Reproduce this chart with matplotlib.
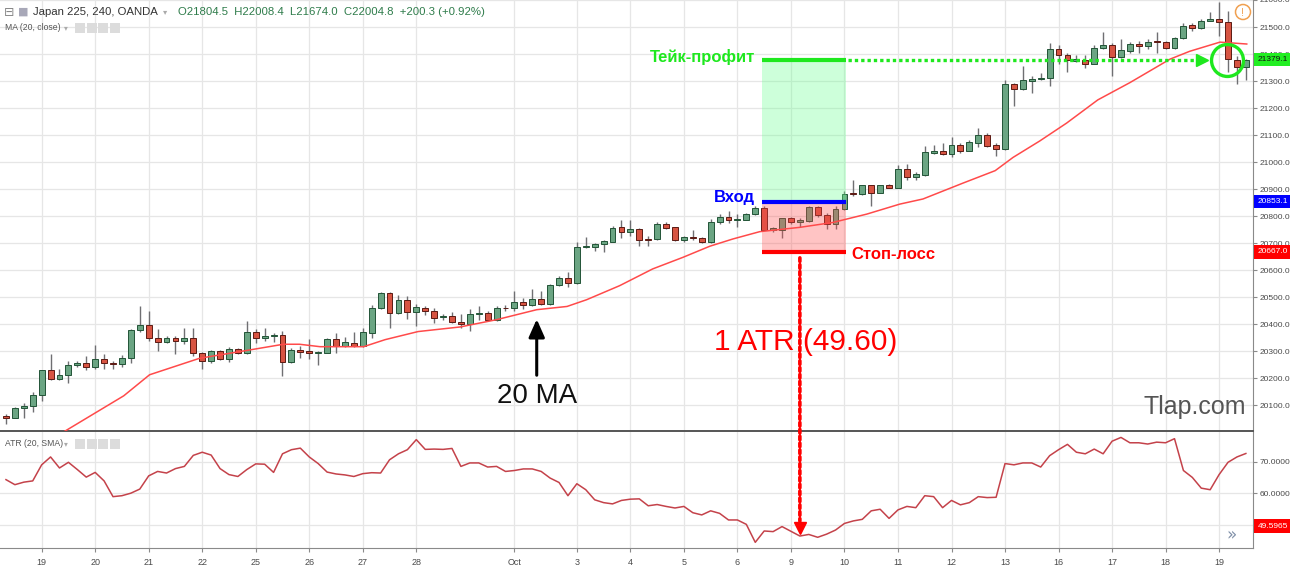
import numpy as np
import matplotlib.pyplot as plt
from matplotlib.patches import Rectangle, ConnectionPatch, Ellipse

plt.rcParams['font.family'] = ['Liberation Sans', 'DejaVu Sans']

# 4h candles, Japan 225 (OANDA)
opens = [20058, 20052, 20089, 20095, 20137, 20228, 20196, 20210, 20247, 20257,
         20242, 20269, 20257, 20251, 20273, 20377, 20398, 20347, 20334, 20347,
         20337, 20350, 20291, 20263, 20300, 20269, 20306, 20291, 20371, 20350,
         20355, 20359, 20261, 20304, 20300, 20291, 20294, 20343, 20318, 20330,
         20318, 20367, 20461, 20515, 20441, 20488, 20445, 20461, 20448, 20426,
         20431, 20407, 20399, 20438, 20441, 20414, 20460, 20458, 20480, 20469,
         20492, 20474, 20545, 20572, 20551, 20684, 20687, 20697, 20705, 20758,
         20742, 20752, 20716, 20715, 20772, 20758, 20712, 20724, 20720, 20702,
         20776, 20795, 20787, 20787, 20807, 20829, 20749, 20749, 20791, 20776,
         20782, 20835, 20803, 20770, 20825, 20884, 20881, 20914, 20887, 20914,
         20905, 20974, 20946, 20953, 21035, 21040, 21030, 21064, 21042, 21072,
         21099, 21062, 21048, 21288, 21269, 21300, 21306, 21310, 21417, 21398,
         21374, 21376, 21364, 21423, 21435, 21389, 21410, 21438, 21429, 21448,
         21444, 21423, 21460, 21508, 21498, 21524, 21529, 21520, 21379, 21351]
highs = [20068, 20093, 20107, 20149, 20230, 20288, 20232, 20263, 20263, 20282,
         20322, 20289, 20264, 20285, 20383, 20466, 20448, 20383, 20355, 20355,
         20387, 20387, 20297, 20304, 20304, 20313, 20310, 20412, 20383, 20387,
         20365, 20375, 20310, 20318, 20343, 20300, 20347, 20367, 20353, 20371,
         20387, 20469, 20518, 20518, 20506, 20502, 20475, 20466, 20461, 20438,
         20443, 20438, 20455, 20465, 20447, 20465, 20471, 20524, 20496, 20529,
         20521, 20548, 20578, 20591, 20705, 20721, 20699, 20711, 20763, 20785,
         20785, 20754, 20727, 20776, 20776, 20761, 20727, 20749, 20722, 20788,
         20807, 20819, 20807, 20811, 20838, 20838, 20760, 20793, 20795, 20791,
         20838, 20838, 20811, 20838, 20893, 20934, 20916, 20916, 20916, 20918,
         20989, 20992, 20962, 21058, 21062, 21072, 21093, 21072, 21082, 21125,
         21107, 21072, 21304, 21294, 21355, 21318, 21331, 21439, 21432, 21405,
         21398, 21398, 21432, 21483, 21439, 21454, 21444, 21448, 21456, 21483,
         21448, 21464, 21514, 21516, 21530, 21554, 21591, 21560, 21391, 21381]
lows = [20030, 20051, 20052, 20074, 20113, 20193, 20193, 20183, 20239, 20228,
        20235, 20235, 20233, 20240, 20255, 20371, 20338, 20301, 20328, 20288,
        20326, 20283, 20233, 20257, 20267, 20261, 20288, 20289, 20328, 20338,
        20334, 20208, 20257, 20273, 20269, 20248, 20291, 20294, 20313, 20313,
        20313, 20347, 20457, 20387, 20436, 20420, 20392, 20433, 20402, 20414,
        20404, 20385, 20373, 20414, 20410, 20410, 20447, 20447, 20457, 20465,
        20471, 20471, 20539, 20537, 20549, 20681, 20672, 20668, 20702, 20718,
        20727, 20690, 20690, 20712, 20752, 20708, 20702, 20712, 20700, 20700,
        20772, 20774, 20761, 20785, 20803, 20748, 20742, 20720, 20772, 20761,
        20778, 20795, 20752, 20752, 20823, 20875, 20877, 20838, 20885, 20902,
        20902, 20934, 20934, 20949, 21029, 21025, 21017, 21033, 21039, 21054,
        21054, 21021, 21044, 21208, 21267, 21254, 21304, 21282, 21362, 21333,
        21370, 21349, 21362, 21419, 21319, 21385, 21404, 21404, 21419, 21404,
        21419, 21419, 21456, 21485, 21494, 21521, 21466, 21335, 21289, 21304]
closes = [20051, 20090, 20098, 20138, 20228, 20196, 20212, 20247, 20257, 20242,
          20269, 20255, 20251, 20273, 20377, 20398, 20347, 20334, 20347, 20337,
          20350, 20291, 20264, 20300, 20269, 20306, 20291, 20371, 20350, 20355,
          20361, 20261, 20304, 20298, 20291, 20298, 20343, 20318, 20334, 20318,
          20370, 20461, 20515, 20441, 20488, 20445, 20463, 20448, 20424, 20431,
          20406, 20399, 20438, 20441, 20414, 20459, 20458, 20480, 20469, 20492,
          20474, 20545, 20572, 20551, 20684, 20689, 20697, 20708, 20754, 20742,
          20752, 20712, 20712, 20772, 20754, 20712, 20724, 20717, 20702, 20776,
          20795, 20787, 20790, 20807, 20829, 20749, 20754, 20791, 20776, 20785,
          20835, 20803, 20770, 20825, 20883, 20881, 20914, 20887, 20914, 20905,
          20974, 20946, 20955, 21038, 21040, 21030, 21064, 21042, 21075, 21099,
          21060, 21048, 21288, 21269, 21304, 21309, 21312, 21417, 21398, 21378,
          21380, 21364, 21423, 21435, 21389, 21414, 21438, 21429, 21446, 21444,
          21423, 21460, 21504, 21498, 21524, 21529, 21520, 21381, 21351, 21376]

# ATR (20, SMA), one value per candle
atr = [64.4, 62.8, 63.6, 64.0, 69.1, 71.6, 68.1, 69.9, 67.6, 65.2,
       66.7, 64.0, 59.0, 59.3, 60.1, 61.4, 65.6, 67.0, 66.5, 67.9,
       68.6, 72.1, 73.1, 72.2, 67.9, 66.0, 65.4, 67.6, 69.4, 69.3,
       66.7, 72.6, 73.9, 74.4, 71.6, 69.5, 66.8, 66.2, 65.9, 65.4,
       66.3, 66.6, 66.5, 70.7, 72.6, 73.9, 77.1, 74.0, 74.1, 74.0,
       74.3, 68.6, 69.7, 69.7, 68.4, 68.6, 67.0, 67.3, 67.8, 67.8,
       67.0, 64.9, 63.5, 59.3, 63.1, 61.2, 58.0, 57.1, 56.7, 57.8,
       58.2, 58.3, 56.1, 56.5, 55.9, 55.4, 55.9, 53.9, 53.2, 54.5,
       53.7, 51.6, 51.6, 50.2, 44.5, 48.1, 47.9, 49.5, 48.0, 46.5,
       47.0, 46.1, 47.1, 48.4, 50.5, 51.3, 51.8, 54.5, 55.0, 52.1,
       54.8, 55.9, 55.5, 59.3, 59.0, 55.5, 57.8, 56.4, 57.1, 59.0,
       58.7, 58.8, 69.5, 69.1, 69.7, 69.7, 68.4, 72.0, 73.9, 75.6,
       73.1, 72.6, 74.1, 72.6, 76.6, 77.8, 76.1, 76.1, 75.7, 76.3,
       76.1, 77.4, 67.3, 65.1, 61.7, 61.2, 66.0, 69.9, 71.6, 72.7]

# MA (20, close) as traced on the chart
ma_x = [6.6, 13.2, 16.1, 21.7, 27.7, 31.1, 32.9, 35.2, 40.1, 42.5, 46.2, 50.9,
        55.0, 59.5, 62.9, 65.1, 68.8, 72.5, 75.9, 78.9, 81.5, 84.5, 89.0, 92.7,
        96.5, 100.2, 102.8, 107.3, 110.9, 112.9, 115.9, 118.9, 122.4, 126.0,
        130.5, 132.7, 136.1, 139.1]
ma_val = [20003, 20134, 20212, 20273, 20306, 20325, 20325, 20316, 20316, 20342,
          20372, 20389, 20416, 20453, 20465, 20490, 20542, 20604, 20647, 20688,
          20715, 20742, 20758, 20776, 20807, 20844, 20863, 20922, 20968, 21017,
          21078, 21144, 21230, 21294, 21381, 21410, 21444, 21437]

day_pos = [4, 10, 16, 22, 28, 34, 40, 46, 57, 64, 70, 76, 82, 88, 94, 100,
           106, 112, 118, 124, 130, 136]
day_labels = ['19', '20', '21', '22', '25', '26', '27', '28', 'Oct', '3', '4',
              '5', '6', '9', '10', '11', '12', '13', '16', '17', '18', '19']

take_profit = 21379.1
entry = 20853.1
stop_loss = 20667.0
atr_now = 49.5965
trade_start, trade_end = 84.7, 94.2

GREEN = '#1ee81e'
W, H = 1290, 568


def px_box(x0, y0, x1, y1):
    return [x0 / W, 1 - y1 / H, (x1 - x0) / W, (y1 - y0) / H]


fig = plt.figure(figsize=(12.9, 5.68), dpi=100)
ax = fig.add_axes(px_box(0, 0, 1253, 431))
ax2 = fig.add_axes(px_box(0, 432, 1253, 548), sharex=ax)

# candles
x = np.arange(len(closes))
o = np.array(opens)
c = np.array(closes)
up = c >= o
ax.vlines(x, lows, highs, color='#6f6f72', lw=1, zorder=2)
ax.bar(x, np.maximum(np.abs(c - o), 1.5), bottom=np.minimum(o, c), width=0.66,
       color=np.where(up, '#6ba583', '#d75442'),
       edgecolor=np.where(up, '#225437', '#5b1a13'), linewidth=0.7, zorder=3)
ax.plot(ma_x, ma_val, color='#ff4a4a', lw=1.1, zorder=4)

# trade zones
ax.add_patch(Rectangle((trade_start, entry), trade_end - trade_start, take_profit - entry,
                       fc=(0.4, 1, 0.55), alpha=0.32, ec='none', zorder=5))
ax.add_patch(Rectangle((trade_start, stop_loss), trade_end - trade_start, entry - stop_loss,
                       fc=(1, 0.3, 0.3), alpha=0.33, ec='none', zorder=5))
ax.hlines(take_profit, trade_start, trade_end, color=GREEN, lw=3, zorder=6)
ax.hlines(entry, trade_start, trade_end, color='#0000ff', lw=3, zorder=6)
ax.hlines(stop_loss, trade_start, trade_end, color='#ff0000', lw=3, zorder=6)

ax.plot([trade_end + 0.2, 133.6], [take_profit] * 2, color=GREEN, lw=2.4,
        linestyle=(0, (1, 0.9)), zorder=6)
ax.plot(134.1, take_profit, marker='>', ms=9, color=GREEN, zorder=6)
ax.plot(136.9, take_profit, 'o', ms=23, mfc='none', mec=GREEN, mew=2.4, zorder=7)

ax.text(84.0, 21389, 'Тейк-профит', color=GREEN, fontsize=12, fontweight='bold',
        ha='right', va='center', zorder=8)
ax.text(84.0, 20870, 'Вход', color='#0000ff', fontsize=12, fontweight='bold',
        ha='right', va='center', zorder=8)
ax.text(94.8, 20659, 'Стоп-лосс', color='#ff0000', fontsize=12, fontweight='bold',
        ha='left', va='center', zorder=8)
ax.text(89.7, 20333, '1 ATR (49.60)', color='#ff0000', fontsize=21.5,
        ha='center', va='center', zorder=8)

ax.annotate('', xy=(59.5, 20428), xytext=(59.5, 20200),
            arrowprops=dict(arrowstyle='-|>,head_width=0.4,head_length=0.9',
                            lw=2.2, color='black', mutation_scale=12), zorder=8)
ax.text(59.5, 20133, '20 MA', fontsize=20, ha='center', va='center', color='#111111')
ax.text(133.3, 20093, 'Tlap.com', fontsize=18, ha='center', va='center', color='#555555')

# ATR panel
ax2.plot(x, atr, color='#c4424a', lw=1.1)
con = ConnectionPatch(xyA=(89, 20645), coordsA=ax.transData, xyB=(89, 51.2),
                      coordsB=ax2.transData, color='#ff0000', lw=2.6,
                      linestyle=(0, (1, 0.9)), zorder=9)
fig.add_artist(con)
ax2.plot(89, 49.0, marker='v', ms=9, color='#ff0000', clip_on=False, zorder=9)

# axes styling
ax.set_xlim(-0.67, 139.8)
ax.set_ylim(21600 - 431 * 3.7037, 21600)
ax2.set_ylim(42.7, 79.52)

for a in (ax, ax2):
    a.yaxis.tick_right()
    a.grid(True, color='#e6e6e6', lw=0.9, zorder=0)
    a.set_axisbelow(True)
    a.spines['top'].set_visible(False)
    a.spines['left'].set_visible(False)
    a.spines['right'].set_color('#8a8a8a')
    a.tick_params(axis='y', length=3, width=0.8, color='#8a8a8a', labelsize=6,
                  labelcolor='#4a4a4a', pad=1.5)

ax.spines['bottom'].set_color('#555555')
ax.spines['bottom'].set_linewidth(1.4)
ax2.spines['bottom'].set_color('#8a8a8a')

ax.set_yticks(np.arange(20100, 21601, 100))
ax.set_yticklabels(['%.1f' % v for v in np.arange(20100, 21601, 100)])
ax2.set_yticks([50, 60, 70])
ax2.set_yticklabels(['', '60.0000', '70.0000'])

ax2.set_xticks(day_pos)
ax2.set_xticklabels(day_labels)
ax.tick_params(axis='x', length=0, labelbottom=False)
ax2.tick_params(axis='x', length=3, color='#8a8a8a', labelsize=6.5,
                labelcolor='#4a4a4a', pad=4)


def price_tag(a, y, text, fc, tc):
    a.text(1.0035, y, text, transform=a.get_yaxis_transform(), fontsize=6,
           color=tc, ha='left', va='center', clip_on=False, zorder=10,
           bbox=dict(boxstyle='square,pad=0.4', fc=fc, ec='none'))


price_tag(ax, take_profit, '%.1f' % take_profit, '#22ee22', '#111111')
price_tag(ax, entry, '%.1f' % entry, '#0000ff', 'white')
price_tag(ax, stop_loss, '%.1f' % stop_loss, '#ff0000', 'white')
price_tag(ax2, atr_now, '%.4f' % atr_now, '#ff0000', 'white')

# legend-like header texts
fam = ['DejaVu Sans']
fig.text(4 / W, 1 - 12 / H, '⊟', fontsize=9, color='#888888', va='center', family=fam)
fig.text(18 / W, 1 - 12 / H, '■', fontsize=8, color='#a8a8b8', va='center', family=fam)
fig.text(33 / W, 1 - 12 / H, 'Japan 225, 240, OANDA', fontsize=8.2, color='#333333', va='center')
fig.text(163 / W, 1 - 12 / H, '▾', fontsize=6, color='#aaaaaa', va='center', family=fam)
fig.text(178 / W, 1 - 12 / H, 'O21804.5  H22008.4  L21674.0  C22004.8  +200.3 (+0.92%)',
         fontsize=8.2, color='#2f7c4b', va='center')
fig.text(5 / W, 1 - 28 / H, 'MA (20, close)', fontsize=6.2, color='#555555', va='center')
fig.text(64 / W, 1 - 28 / H, '▾', fontsize=5.5, color='#aaaaaa', va='center', family=fam)
fig.text(5 / W, 1 - 444 / H, 'ATR (20, SMA)', fontsize=6.2, color='#555555', va='center')
fig.text(64 / W, 1 - 444 / H, '▾', fontsize=5.5, color='#aaaaaa', va='center', family=fam)
for yy in (23, 439):
    for k in range(4):
        fig.add_artist(Rectangle(((75 + 11.5 * k) / W, 1 - (yy + 10) / H), 10 / W, 10 / H,
                                 transform=fig.transFigure, fc='#dcdcdc', ec='none'))

fig.add_artist(Ellipse((1243 / W, 1 - 12 / H), 15 / W, 15 / H, transform=fig.transFigure,
                       fc='white', ec='#f0a050', lw=1.1))
fig.text(1243 / W, 1 - 12.5 / H, '!', fontsize=8, color='#f0a050', ha='center', va='center')
fig.text(1232 / W, 1 - 535 / H, '»', fontsize=12, color='#8090a8', ha='center', va='center',
         family=fam)

fig.savefig('out.png', dpi=100, facecolor='white')
